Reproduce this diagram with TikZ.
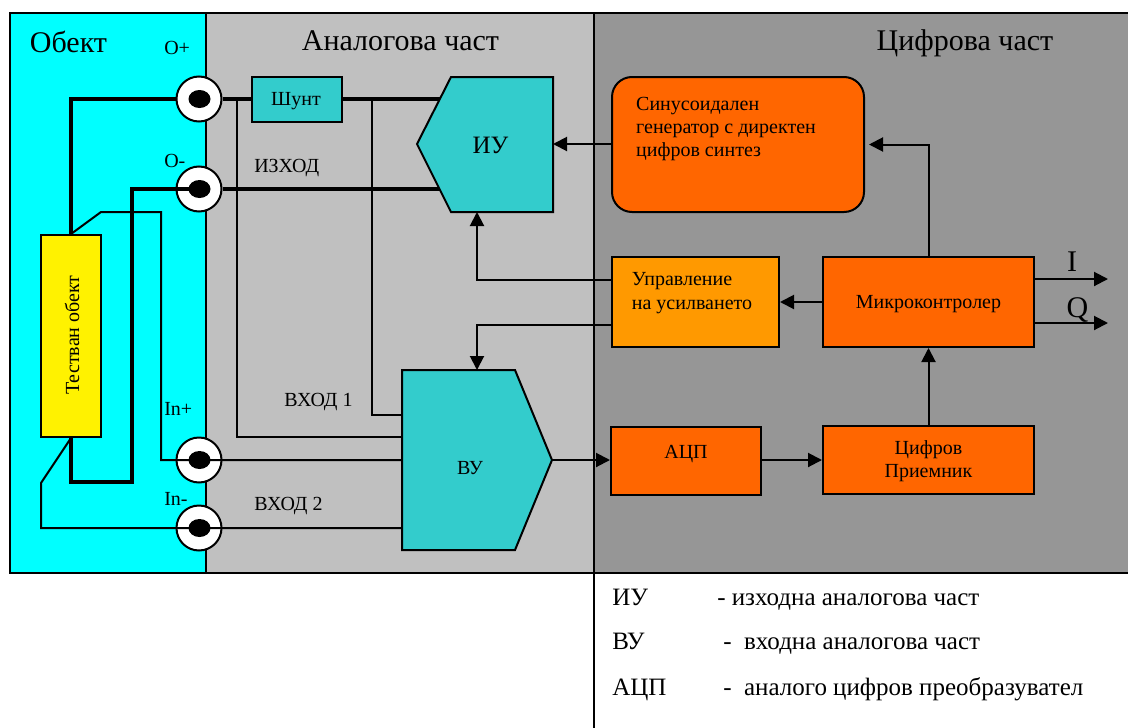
\documentclass[tikz,border=0pt]{standalone}
\usepackage{fontspec}
\setmainfont{Liberation Serif}
\usetikzlibrary{arrows.meta,shapes.geometric}
\newcommand{\fs}[1]{\fontsize{#1}{#1}\selectfont}
\tikzset{
 every picture/.style={x=0.75pt,y=-0.75pt},
 thinw/.style={line width=1.5pt},
 thickw/.style={line width=3.2pt},
 arrw/.style={line width=1.5pt,-{Triangle[length=10.5pt,width=10.5pt]}},
 blk/.style={draw=black,line width=1.5pt,inner sep=0pt,align=center,font=\fs{15}},
 orangebox/.style={blk,fill=oran},
 lab/.style={inner sep=0pt,anchor=base west,font=\fs{15}},
 big/.style={inner sep=0pt,anchor=base,font=\fs{22.5}},
 leg/.style={inner sep=0pt,anchor=base west,font=\fs{18.75}},
 mid/.style={inner sep=0pt,anchor=base,font=\fs{15}},
 ring/.style={circle,draw=black,fill=white,line width=1.5pt,minimum size=33.75pt,inner sep=0pt},
 dot/.style={ellipse,fill=black,minimum width=16.5pt,minimum height=13.5pt,inner sep=0pt},
}
\definecolor{cy}{RGB}{0,255,255}
\definecolor{gl}{RGB}{192,192,192}
\definecolor{gd}{RGB}{150,150,150}
\definecolor{tl}{RGB}{51,204,204}
\definecolor{oran}{RGB}{255,102,0}
\definecolor{amb}{RGB}{255,153,0}
\begin{document}
\begin{tikzpicture}
\useasboundingbox (0,0) rectangle (1128,728);
% panels
\fill[cy] (10,13) rectangle (206,573);
\fill[gl] (206,13) rectangle (594,573);
\fill[gd] (594,13) rectangle (1128,573);
\draw[thinw] (1128,13) -- (10,13) -- (10,573) -- (1128,573);
\draw[thinw] (206,13) -- (206,573);
\draw[thinw] (594,13) -- (594,728);
% titles
\node[big] (tObj) at (68.5,52) {Обект};
\node[big] (tAn) at (400.5,50) {Аналогова част};
\node[big] (tDig) at (965,50) {Цифрова част};
% points
\coordinate (pB) at (132,189);
\coordinate (pC) at (132,482);
\coordinate (pE) at (101,212);
\coordinate (pF) at (161,212);
\coordinate (pG) at (41,483);
\coordinate (pH) at (41,528);
\coordinate (iuA) at (440,99);
\coordinate (iuB) at (440,189);
\coordinate (jA) at (237,99);
\coordinate (jB) at (372,99);
\coordinate (vuA) at (402,437);
\coordinate (vuB) at (402,415);
\coordinate (vuC) at (402,460);
\coordinate (vuD) at (402,528);
\coordinate (outI) at (1108,279);
\coordinate (outQ) at (1108,323);
% terminals
\node[ring] (rA) at (199,99) {};
\node[ring] (rB) at (199,189) {};
\node[ring] (rC) at (199,460) {};
\node[ring] (rD) at (199,528) {};
\node[dot] (dA) at (199.5,99) {};
\node[dot] (dB) at (199.5,189) {};
\node[dot] (dC) at (199.5,460) {};
\node[dot] (dD) at (199.5,528) {};
% boxes
\node[blk,fill=yellow,minimum width=45pt,minimum height=151.5pt] (obj) at (71,336) {};
\node[inner sep=0pt,rotate=90,font=\fs{15}] (objT) at (72,335) {Тестван обект};
\node[blk,fill=tl,minimum width=67.5pt,minimum height=33.75pt] (sh) at (297,99) {};
\node[mid] (shT) at (296,105) {Шунт};
% wires
\draw[thickw] (rA.west) -| (obj.north);
\draw[thickw,line join=miter] (dB.center) -- (pB) -- (pC) -| (obj.south);
\draw[thinw] (obj.north) -- (pE) -- (pF) |- (dC.center) -- (vuC);
\draw[thinw] (obj.south) -- (pG) -- (pH) -- (dD.center) -- (vuD);
\draw[thickw] (rA.east) -- (sh.west);
\draw[thickw] (sh.east) -- (iuA);
\draw[thickw] (rB.east) -- (iuB);
\draw[thinw] (jA) |- (vuA);
\draw[thinw] (jB) |- (vuB);
% polygons
\draw[fill=tl,line width=1.5pt,line join=miter] (451,77) -- (553,77) -- (553,212) -- (451,212) -- (417,144) -- cycle;
\node[inner sep=0pt,anchor=base,font=\fs{18.75}] (iu) at (490.5,153) {ИУ};
\coordinate (iuE) at (553,144);
\coordinate (iuS) at (477,212);
\draw[fill=tl,line width=1.5pt,line join=miter] (402,370) -- (515,370) -- (552,460) -- (515,550) -- (402,550) -- cycle;
\node[mid] (vu) at (470,474) {ВУ};
\coordinate (vuN) at (477,370);
\coordinate (vuE) at (552,460);
% digital
\node[orangebox,rounded corners=15pt,minimum width=189pt,minimum height=101.25pt] (gen) at (738,144.5) {};
\node[inner sep=0pt,anchor=center,font=\fontsize{15}{17.6}\selectfont,align=left] (genT) at (726,129) {Синусоидален\\генератор с директен\\цифров синтез};
\node[blk,fill=amb,minimum width=125.25pt,minimum height=67.5pt] (ctl) at (695.5,302) {};
\node[inner sep=0pt,anchor=center,font=\fontsize{15}{18}\selectfont,align=left] (ctlT) at (692,293) {Управление\\на усилването};
\node[orangebox,minimum width=158.25pt,minimum height=67.5pt] (mc) at (928.5,302) {};
\node[mid] (mcT) at (928.5,308) {Микроконтролер};
\node[orangebox,minimum width=158.25pt,minimum height=51pt] (rx) at (928.5,460) {};
\node[inner sep=0pt,align=center,font=\fontsize{15}{17.2}\selectfont] (rxT) at (928.5,461) {Цифров\\Приемник};
\node[orangebox,minimum width=112.5pt,minimum height=51pt] (adc) at (686,461) {};
\node[mid] (adcT) at (686,458) {АЦП};
% arrows
\draw[arrw] (gen.west |- iuE) -- (iuE);
\draw[arrw,shorten >=3pt] (mc.north) |- (gen.east);
\draw[arrw] (ctl.west |- 0,280) -| (iuS);
\draw[arrw] (ctl.west |- 0,325) -| (vuN);
\draw[arrw] (mc.west) -- (ctl.east);
\draw[arrw] (mc.east |- outI) -- (outI);
\draw[arrw] (mc.east |- outQ) -- (outQ);
\draw[arrw] (rx.north) -- (mc.south);
\draw[arrw] (adc.east |- rx.west) -- (rx.west);
\draw[arrw] (vuE) -- (adc.west |- vuE);
% labels
\node[lab] (lA) at (164,54) {O+};
\node[lab] (lB) at (164,167) {O-};
\node[lab] (lC) at (164,415) {In+};
\node[lab] (lD) at (164,505) {In-};
\node[lab] (lE) at (254,172) {ИЗХОД};
\node[lab] (lF) at (284,406) {ВХОД 1};
\node[lab] (lG) at (254,510) {ВХОД 2};
\node[big] (lI) at (1072,271) {I};
\node[big] (lQ) at (1077.5,317) {Q};
% legend
\node[leg] (k1) at (612,605) {ИУ};
\node[leg] (k2) at (612,649) {ВУ};
\node[leg] (k3) at (612,695) {АЦП};
\node[leg] (v1) at (717,605) {- изходна аналогова част};
\node[leg] (v2) at (723,649) {- \ входна аналогова част};
\node[leg] (v3) at (723,695) {- \ аналого цифров преобразувател};
\end{tikzpicture}
\end{document}
